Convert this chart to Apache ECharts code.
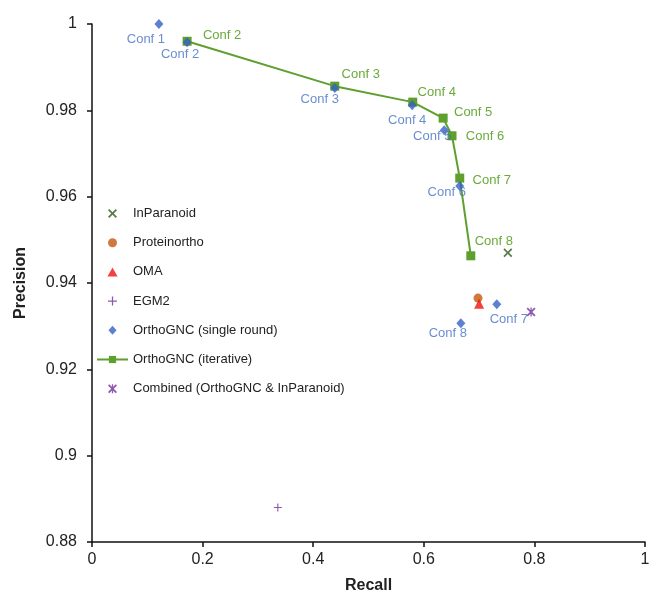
<!DOCTYPE html>
<html><head><meta charset="utf-8">
<script src="https://cdn.jsdelivr.net/npm/echarts@6/dist/echarts.min.js"></script>
<style>html,body{margin:0;padding:0;background:#fff}#c{width:649px;height:597px}</style>
</head><body><div id="c"></div>
<script>
// Data
const inParanoid = [[0.752, 0.947]];
const proteinortho = [[0.698, 0.9365]];
const oma = [[0.700, 0.9352]];
const egm2 = [[0.336, 0.8880]];
const combined = [[0.794, 0.9333]];
const singleLabels = ['Conf 1','Conf 2','Conf 3','Conf 4','Conf 5','Conf 6','Conf 7','Conf 8'];
const singleRecall = [0.121, 0.172, 0.439, 0.579, 0.637, 0.665, 0.732, 0.667];
const singlePrecision = [1.000, 0.9958, 0.9852, 0.9812, 0.9754, 0.9625, 0.9351, 0.9307];
const iterLabels = ['Conf 2','Conf 3','Conf 4','Conf 5','Conf 6','Conf 7','Conf 8'];
const iterRecall = [0.172, 0.439, 0.580, 0.635, 0.651, 0.665, 0.685];
const iterPrecision = [0.9960, 0.9856, 0.9819, 0.9782, 0.9741, 0.9643, 0.9463];
const xTicks = [0, 0.2, 0.4, 0.6, 0.8, 1];
const yTicks = [0.88, 0.9, 0.92, 0.94, 0.96, 0.98, 1];

// label placement (layout only)
const singleOffsets = [[-13,15],[-7,12],[-15,12],[-5,15],[-12,6],[-13,7],[12,15],[-13,10]];
const iterOffsets = [[35,-6],[26,-12],[24,-10],[30,-6],[33,1],[32,2],[23,-14]];

const X_PATH = 'path://M0,1.4L1.4,0L5,3.6L8.6,0L10,1.4L6.4,5L10,8.6L8.6,10L5,6.4L1.4,10L0,8.6L3.6,5Z';
const PLUS_PATH = 'path://M4.3,0H5.7V4.3H10V5.7H5.7V10H4.3V5.7H0V4.3H4.3Z';
const STAR_PATH = 'path://M0,1.4L1.4,0L5,3.6L8.6,0L10,1.4L6.4,5L10,8.6L8.6,10L5,6.4L1.4,10L0,8.6L3.6,5Z M4.3,0H5.7V10H4.3Z';
const TRI_PATH = 'path://M5,0L10,9L0,9Z';
const DIA_PATH = 'path://M4.5,0L9,5L4.5,10L0,5Z';
const CIRC_PATH = 'path://M5,0A5,5,0,1,1,5,10A5,5,0,1,1,5,0Z';

const BLUE = '#3560C4', BLUE_TXT = '#4472C4', GREEN = '#5E9F2E', GREEN_TXT = '#6AAA3A';
const font = 'Liberation Sans, Arial, sans-serif';

const singleData = singleRecall.map((x,i)=>({value:[x, singlePrecision[i]], label:{offset:singleOffsets[i]}}));
const iterData = iterRecall.map((x,i)=>({value:[x, iterPrecision[i]], label:{offset:iterOffsets[i]}}));

const chart = echarts.init(document.getElementById('c'), null, {renderer:'canvas'});
chart.setOption({
  animation:false,
  backgroundColor:'#fff',
  grid:{left:92, right:4, top:24, bottom:55, containLabel:false, outerBoundsMode:'none'},
  xAxis:{type:'value', min:0, max:1, interval:0.2, name:'Recall', nameLocation:'middle', nameGap:36,
    nameTextStyle:{fontFamily:font, fontSize:16, fontWeight:'bold', color:'#222'},
    axisLine:{show:true, onZero:false, lineStyle:{color:'#111', width:1.5}},
    axisTick:{show:true, inside:false, length:5, lineStyle:{color:'#111', width:1.5}},
    axisLabel:{fontFamily:font, fontSize:16, color:'#222', margin:10, formatter:v=>String(+v.toFixed(2))},
    splitLine:{show:false}},
  yAxis:{type:'value', min:0.88, max:1, interval:0.02, name:'Precision', nameLocation:'middle', nameGap:63, nameRotate:90,
    nameTextStyle:{fontFamily:font, fontSize:16, fontWeight:'bold', color:'#222'},
    axisLine:{show:true, onZero:false, lineStyle:{color:'#111', width:1.5}},
    axisTick:{show:true, inside:false, length:5, lineStyle:{color:'#111', width:1.5}},
    axisLabel:{fontFamily:font, fontSize:16, color:'#222', margin:15, formatter:v=>String(+v.toFixed(2))},
    splitLine:{show:false}},
  legend:{orient:'vertical', left:96, top:207, padding:0, itemWidth:31, itemHeight:9, itemGap:16.2,
    textStyle:{fontFamily:font, fontSize:13, color:'#222'},
    data:[
      {name:'InParanoid'},
      {name:'Proteinortho', icon:CIRC_PATH},
      {name:'OMA', icon:TRI_PATH},
      {name:'EGM2'},
      {name:'OrthoGNC (single round)', icon:DIA_PATH},
      {name:'OrthoGNC (iterative)'},
      {name:'Combined (OrthoGNC & InParanoid)'}
    ]},
  series:[
    {name:'InParanoid', type:'scatter', data:inParanoid, symbol:X_PATH, symbolSize:9, itemStyle:{color:'#2F5A20'}},
    {name:'Proteinortho', type:'scatter', data:proteinortho, symbol:'circle', symbolSize:9, itemStyle:{color:'#C5560F'}},
    {name:'OMA', type:'scatter', data:oma, symbol:'triangle', symbolSize:10, itemStyle:{color:'#F01010'}},
    {name:'EGM2', type:'scatter', data:egm2, symbol:PLUS_PATH, symbolSize:8, itemStyle:{color:'#7030A0'}},
    {name:'OrthoGNC (single round)', type:'scatter', z:4, data:singleData, symbol:'diamond', symbolSize:[9,10], itemStyle:{color:BLUE},
      label:{show:true, position:'inside', formatter:p=>singleLabels[p.dataIndex], color:BLUE_TXT, fontFamily:font, fontSize:13}},
    {name:'OrthoGNC (iterative)', type:'line', z:3, data:iterData, symbol:'rect', symbolSize:9, showAllSymbol:true,
      lineStyle:{color:GREEN, width:2}, itemStyle:{color:GREEN},
      label:{show:true, position:'inside', formatter:p=>iterLabels[p.dataIndex], color:GREEN_TXT, fontFamily:font, fontSize:13}},
    {name:'Combined (OrthoGNC & InParanoid)', type:'scatter', data:combined, symbol:STAR_PATH, symbolSize:9, itemStyle:{color:'#7030A0'}}
  ]
});
</script></body></html>
